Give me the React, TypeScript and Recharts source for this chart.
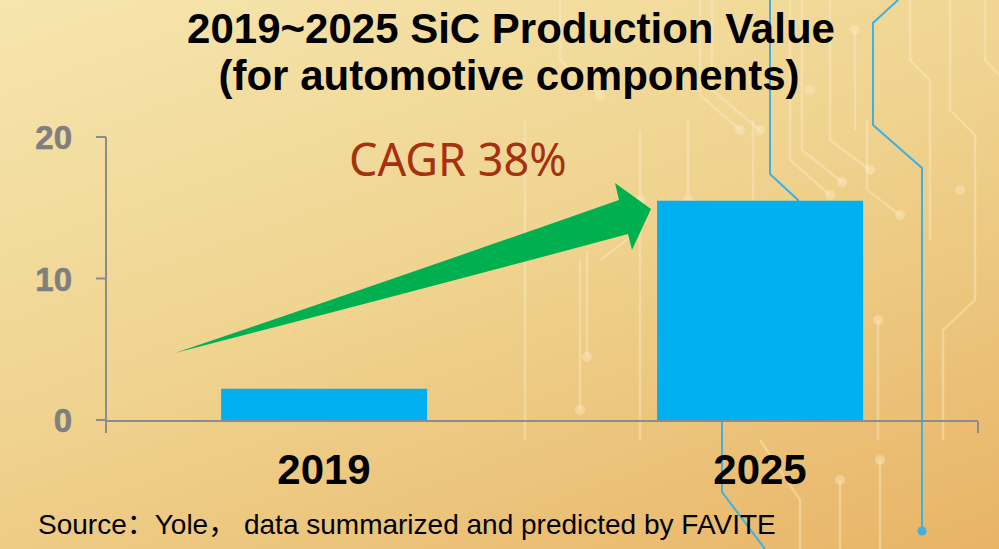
import { Bar, BarChart, XAxis, YAxis } from "recharts";

// values (production value, unit as in source)
const years = ["2019", "2025"];
const productionValue = [2.2, 15.5];
const yTicks = [0, 10, 20];
const edgeTicks = [0, 1, 2];

const data = years.map((year, i) => ({ year, value: productionValue[i] }));

const AXIS = "#8c8c8c";
const FONT = "Arial, 'Liberation Sans', 'Noto Sans CJK SC', sans-serif";

// faint circuit-board decoration behind the chart
const faintLines = [
  "525,120 525,440",
  "560,0 560,60 600,95",
  "580,260 580,410",
  "587,250 587,357",
  "600,260 640,230 640,440",
  "640,130 640,200",
  "688,120 688,200",
  "700,0 700,95 740,130",
  "712,0 712,90 760,130",
  "753,120 753,200",
  "790,0 790,160 830,195",
  "802,0 802,150 842,182",
  "830,0 830,140 870,170",
  "855,30 855,130",
  "867,120 867,190 900,215",
  "878,320 878,440",
  "910,0 910,60 930,80 930,240",
  "943,370 943,440",
  "950,0 950,110 975,135 975,300 943,330 943,370",
  "985,0 985,60 999,75",
  "760,440 800,500 800,549",
  "840,480 840,549",
  "880,460 880,549",
];
const faintDots = [
  [580, 410], [587, 357], [600, 95], [740, 130], [760, 130], [830, 195],
  [842, 182], [870, 170], [855, 30], [900, 215], [878, 320], [730, 250],
  [810, 90], [640, 200], [688, 200], [960, 190], [840, 480], [880, 460],
];

function Circuit() {
  return (
    <svg width={999} height={549} style={{ position: "absolute", left: 0, top: 0 }}>
      {faintLines.map((p, i) => (
        <polyline key={i} points={p} fill="none" stroke="rgba(252,238,200,0.4)" strokeWidth={2.5} />
      ))}
      {faintDots.map(([cx, cy], i) => (
        <circle key={i} cx={cx} cy={cy} r={5} fill="rgba(252,238,200,0.4)" />
      ))}
      <polyline points="770,0 770,174 798,200 800,420" fill="none" stroke="#3fb0e2" strokeWidth={2} />
      <polyline points="722,420 722,492 765,549" fill="none" stroke="#3fb0e2" strokeWidth={2} />
      <polyline points="898,0 873,23 873,125 922,168 922,530" fill="none" stroke="#3fb0e2" strokeWidth={2} />
      <circle cx={922} cy={531} r={4.5} fill="#3fb0e2" />
    </svg>
  );
}

function YearTick(props: any) {
  const { x, y, payload } = props;
  return (
    <text x={x} y={y} dy={64} textAnchor="middle" fontFamily={FONT} fontWeight="bold" fontSize={42} fill="#000">
      {payload.value}
    </text>
  );
}

function NoLabel() {
  return <g />;
}

function ValueTick(props: any) {
  const { x, y, payload } = props;
  return (
    <text x={x} y={y} dy={12} textAnchor="end" fontFamily={FONT} fontWeight="bold" fontSize={33} fill="#7f7f7f" stroke="#7f7f7f" strokeWidth={0.6}>
      {payload.value}
    </text>
  );
}

function Overlay() {
  return (
    <svg width={999} height={549} style={{ position: "absolute", left: 0, top: 0, pointerEvents: "none" }}>
      <text x={511} y={43} textAnchor="middle" fontFamily={FONT} fontWeight="bold" fontSize={42} fill="#000">
        2019~2025 SiC Production Value
      </text>
      <text x={509} y={90} textAnchor="middle" fontFamily={FONT} fontWeight="bold" fontSize={42} fill="#000">
        (for automotive components)
      </text>
      <text x={349} y={176} fontFamily="'Noto Sans', sans-serif" fontSize={45} fill="#a5310f">
        CAGR 38%
      </text>
      <path
        d="M175,353 Q420,270 619,200 L615,183 L651,209 L632,250 L628,234 Q420,290 175,353 Z"
        fill="#00b050"
      />
      <text x={38} y={534} fontFamily={FONT} fontSize={28} fill="#000">
        Source：Yole，  data summarized and predicted by FAVITE
      </text>
    </svg>
  );
}

export default function App() {
  return (
    <div
      style={{
        position: "absolute",
        left: 0,
        top: 0,
        width: 999,
        height: 549,
        overflow: "hidden",
        background: "linear-gradient(160deg, #f6e6ae 0%, #efd28e 50%, #e8b466 100%)",
      }}
    >
      <Circuit />
      <div style={{ position: "absolute", left: 0, top: 0 }}>
        <BarChart
          width={999}
          height={549}
          data={data}
          margin={{ top: 137, right: 21, bottom: 116, left: 0 }}
          barCategoryGap="26.4%"
        >
          <XAxis
            xAxisId="edge"
            type="number"
            domain={[0, 2]}
            ticks={edgeTicks}
            allowDataOverflow
            tick={<NoLabel />}
            tickSize={12}
            height={12}
            axisLine={{ stroke: AXIS, strokeWidth: 2 }}
            tickLine={{ stroke: AXIS, strokeWidth: 2 }}
          />
          <XAxis
            xAxisId="cat"
            dataKey="year"
            interval={0}
            axisLine={false}
            tickLine={false}
            tickSize={0}
            tickMargin={0}
            height={1}
            tick={<YearTick />}
          />
          <YAxis
            domain={[0, 20]}
            ticks={yTicks}
            width={106}
            tickSize={10}
            tickMargin={24}
            axisLine={{ stroke: AXIS, strokeWidth: 2 }}
            tickLine={{ stroke: AXIS, strokeWidth: 2 }}
            tick={<ValueTick />}
          />
          <Bar xAxisId="cat" dataKey="value" fill="#00b0f0" isAnimationActive={false} />
        </BarChart>
      </div>
      <Overlay />
    </div>
  );
}
